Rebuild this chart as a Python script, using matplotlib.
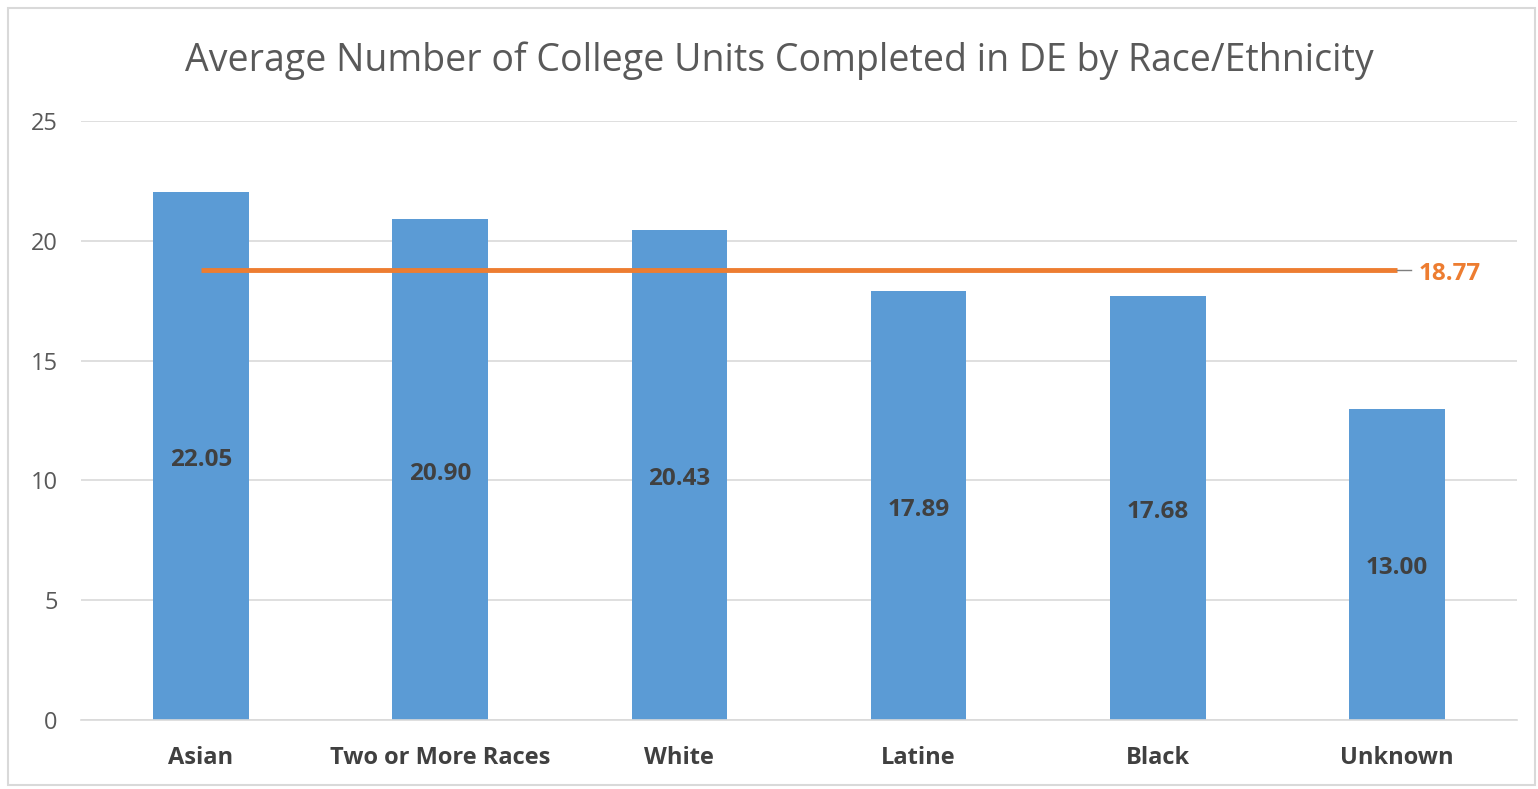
import matplotlib.pyplot as plt
from matplotlib.patches import Rectangle

categories = ["Asian", "Two or More Races", "White", "Latine", "Black", "Unknown"]
avg_units = [22.05, 20.90, 20.43, 17.89, 17.68, 13.00]
overall_avg = 18.77
y_ticks = [0, 5, 10, 15, 20, 25]

BAR = "#5B9BD5"
LINE = "#ED7D31"
GRID = "#D9D9D9"
TXT = "#595959"
DARK = "#404040"

plt.rcParams["font.family"] = ["Open Sans", "DejaVu Sans"]

fig = plt.figure(figsize=(15.38, 7.89), dpi=100)
fig.patches.append(Rectangle((0.005, 0.005), 0.993, 0.985, transform=fig.transFigure,
                             fill=False, edgecolor="#D9D9D9", linewidth=1.5))

ax = fig.add_axes([81.4 / 1538, (789 - 720) / 789, (1516.6 - 81.4) / 1538, (720 - 121) / 789])
x = list(range(len(categories)))
ax.bar(x, avg_units, width=0.40, color=BAR, zorder=2)
ax.plot([x[0], x[-1]], [overall_avg] * 2, color=LINE, linewidth=3.5, zorder=3,
        solid_capstyle="butt")

for xi, v in zip(x, avg_units):
    ax.annotate(f"{v:.2f}", (xi, v / 2), xytext=(0, -3), textcoords="offset points",
                ha="center", va="center", fontsize=17.5, fontweight="bold",
                color=DARK, zorder=4)

# leader and label for the overall average
ax.plot([x[-1], x[-1] + 0.06], [overall_avg] * 2, color="#7F7F7F", linewidth=1, zorder=3)
ax.annotate(f"{overall_avg:.2f}", (x[-1] + 0.09, overall_avg), xytext=(0, -3),
            textcoords="offset points", ha="left", va="center", fontsize=17.5,
            fontweight="bold", color=LINE, zorder=4)

ax.set_xlim(-0.5, len(categories) - 0.5)
ax.set_ylim(0, 25)
ax.set_yticks(y_ticks)
ax.set_xticks(x)
ax.set_xticklabels(categories, fontsize=17, fontweight="bold", color=DARK)
ax.tick_params(axis="y", labelsize=17, labelcolor=TXT, length=0, pad=17)
ax.tick_params(axis="x", length=0, pad=19)
ax.yaxis.grid(True, color=GRID, linewidth=1.2, zorder=0)
ax.set_axisbelow(True)
for s in ["top", "right", "left"]:
    ax.spines[s].set_visible(False)
ax.spines["bottom"].set_color(GRID)
ax.spines["bottom"].set_linewidth(1.2)

fig.text(779 / 1538, 1 - 61 / 789, "Average Number of College Units Completed in DE by Race/Ethnicity",
         ha="center", va="center", fontsize=27, color=TXT)

fig.savefig("out.png", dpi=100, facecolor="white")
